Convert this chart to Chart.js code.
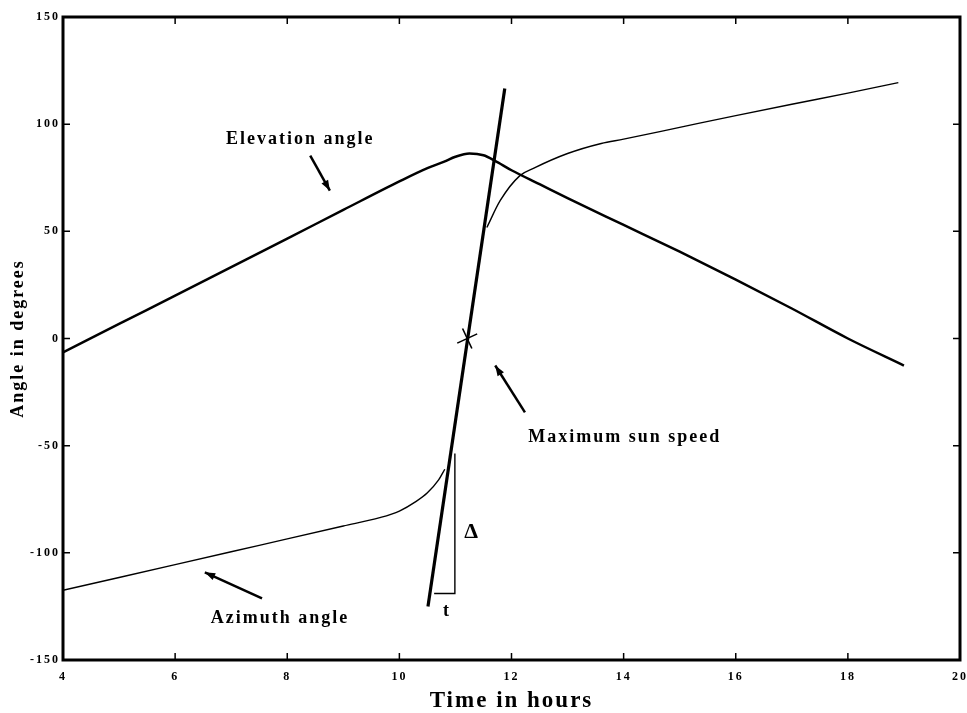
<!DOCTYPE html>
<html>
<head>
<meta charset="utf-8">
<script src="https://cdn.jsdelivr.net/npm/chart.js@4/dist/chart.umd.min.js"></script>
<style>
  html, body { margin: 0; padding: 0; background: #fff; }
  #chart { display: block; }
</style>
</head>
<body>
<canvas id="chart" width="967" height="713"></canvas>
<script>
// sun elevation over the day (hours, degrees)
const elevationHours = [4, 5, 6, 7, 8, 9, 10, 10.5, 10.8, 11.0, 11.25, 11.5, 11.7, 12, 12.5, 13, 14, 15, 16, 17, 18, 19];
const elevationAngle = [-6.5, 6.8, 20, 33.3, 46.6, 60, 73.3, 79.5, 82.5, 84.8, 86.3, 85.5, 83, 78.5, 72, 65.5, 53, 40.5, 27.5, 14, 0, -12.6];

// sun azimuth, broken where it runs under the tangent
const azimuthHours = [4, 5, 6, 7, 8, 9, 9.65, 10.0, 10.3, 10.5, 10.7, 10.81, 11.2, 11.56, 11.8, 12.15, 12.4, 13.0, 13.6, 14, 15, 16, 17, 18, 18.9];
const azimuthAngle = [-117.5, -111.5, -105.5, -99.5, -93.5, -87.5, -83.6, -80.5, -76, -72, -66, -61, null, 51.8, 64.4, 76, 79.5, 86.3, 91, 93, 98.5, 104, 109.3, 114.5, 119.4];

// tangent at the point of fastest azimuth change
const tangentHours = [10.51, 11.88];
const tangentAngle = [-125, 116.6];

// slope triangle under the tangent (t, delta)
const triangleHours = [10.62, 10.99, 10.99];
const triangleAngle = [-119, -119, -53.6];

const maxSpeedPoint = { x: 11.21, y: 0 };

const xTicks = [4, 6, 8, 10, 12, 14, 16, 18, 20];
const yTicks = [-150, -100, -50, 0, 50, 100, 150];

// text labels and arrows, in data units
const notes = [
    { text: 'Elevation angle', x: 8.23, y: 92.8 },
    { text: 'Maximum sun speed', x: 14.02, y: -46.2 },
    { text: 'Azimuth angle', x: 7.87, y: -130.6 },
    { text: 't', x: 10.85, y: -127.5 },
    { text: '\u0394', x: 11.30, y: -90.5, size: 22 }
];
const arrows = [
    { from: [8.41, 85.3], to: [8.76, 69.0] },
    { from: [12.24, -34.5], to: [11.71, -12.6] },
    { from: [7.55, -121.3], to: [6.53, -109.1] }
];

function pts(xs, ys) {
    return xs.map((x, i) => ({ x: x, y: ys[i] }));
}

const serif = '"Liberation Serif", "DejaVu Serif", serif';

// wide letter spacing for every text on the canvas
const spacingPlugin = {
    id: 'spacing',
    beforeDraw(chart) { chart.ctx.letterSpacing = '2px'; }
};

// box around the axes with ticks pointing inward, plus the notes
const framePlugin = {
    id: 'frame',
    afterDatasetsDraw(chart) {
        const ctx = chart.ctx;
        const a = chart.chartArea;
        const sx = chart.scales.x;
        const sy = chart.scales.y;
        const len = 7;
        ctx.save();
        ctx.strokeStyle = '#000';
        ctx.lineWidth = 1.5;
        ctx.beginPath();
        xTicks.forEach(v => {
            const px = sx.getPixelForValue(v);
            ctx.moveTo(px, a.bottom); ctx.lineTo(px, a.bottom - len);
            ctx.moveTo(px, a.top); ctx.lineTo(px, a.top + len);
        });
        yTicks.forEach(v => {
            const py = sy.getPixelForValue(v);
            ctx.moveTo(a.left, py); ctx.lineTo(a.left + len, py);
            ctx.moveTo(a.right, py); ctx.lineTo(a.right - len, py);
        });
        ctx.stroke();
        ctx.lineWidth = 3;
        ctx.strokeRect(a.left, a.top, a.right - a.left, a.bottom - a.top);

        ctx.fillStyle = '#000';
        ctx.textAlign = 'center';
        ctx.textBaseline = 'middle';
        notes.forEach(n => {
            ctx.font = 'bold ' + (n.size || 18) + 'px ' + serif;
            ctx.fillText(n.text, sx.getPixelForValue(n.x), sy.getPixelForValue(n.y));
        });

        ctx.lineWidth = 2.5;
        arrows.forEach(ar => {
            const x0 = sx.getPixelForValue(ar.from[0]), y0 = sy.getPixelForValue(ar.from[1]);
            const x1 = sx.getPixelForValue(ar.to[0]), y1 = sy.getPixelForValue(ar.to[1]);
            const ang = Math.atan2(y1 - y0, x1 - x0);
            ctx.beginPath();
            ctx.moveTo(x0, y0); ctx.lineTo(x1, y1);
            ctx.stroke();
            ctx.beginPath();
            ctx.moveTo(x1, y1);
            ctx.lineTo(x1 - 11 * Math.cos(ang - 0.35), y1 - 11 * Math.sin(ang - 0.35));
            ctx.lineTo(x1 - 11 * Math.cos(ang + 0.35), y1 - 11 * Math.sin(ang + 0.35));
            ctx.closePath();
            ctx.fill();
        });
        ctx.restore();
    }
};

new Chart(document.getElementById('chart'), {
    type: 'line',
    data: {
        datasets: [{
            data: pts(elevationHours, elevationAngle),
            borderColor: '#000',
            borderWidth: 2.5,
            cubicInterpolationMode: 'monotone'
        }, {
            data: pts(azimuthHours, azimuthAngle),
            borderColor: '#000',
            borderWidth: 1.4,
            spanGaps: false,
            cubicInterpolationMode: 'monotone'
        }, {
            data: pts(tangentHours, tangentAngle),
            borderColor: '#000',
            borderWidth: 3.2
        }, {
            data: pts(triangleHours, triangleAngle),
            borderColor: '#000',
            borderWidth: 1.4
        }, {
            data: [maxSpeedPoint],
            showLine: false,
            pointStyle: 'cross',
            pointRotation: -25,
            pointRadius: 11,
            pointBorderWidth: 1.6,
            pointBorderColor: '#000'
        }]
    },
    options: {
        responsive: false,
        animation: false,
        events: [],
        elements: { point: { radius: 0 } },
        layout: { autoPadding: false, padding: { top: 17, right: 7, left: 0, bottom: 0 } },
        plugins: {
            legend: { display: false },
            tooltip: { enabled: false }
        },
        scales: {
            x: {
                type: 'linear',
                min: 4,
                max: 20,
                afterFit(s) { s.height = 53; s.paddingLeft = 0; s.paddingRight = 0; },
                afterBuildTicks(s) { s.ticks = xTicks.map(v => ({ value: v })); },
                grid: { display: false, drawTicks: false },
                border: { display: false },
                ticks: {
                    padding: 10,
                    color: '#000',
                    font: { family: serif, size: 12, weight: 'bold' }
                },
                title: {
                    display: true,
                    text: 'Time in hours',
                    color: '#000',
                    padding: { top: 0, bottom: -2 },
                    font: { family: serif, size: 23, weight: 'bold' }
                }
            },
            y: {
                type: 'linear',
                min: -150,
                max: 150,
                afterFit(s) { s.width = 63; s.paddingTop = 0; s.paddingBottom = 0; },
                afterBuildTicks(s) { s.ticks = yTicks.map(v => ({ value: v })); },
                grid: { display: false, drawTicks: false },
                border: { display: false },
                ticks: {
                    padding: 3,
                    color: '#000',
                    font: { family: serif, size: 12, weight: 'bold' }
                },
                title: {
                    display: true,
                    text: 'Angle in degrees',
                    color: '#000',
                    padding: { top: 8, bottom: 0 },
                    font: { family: serif, size: 18, weight: 'bold' }
                }
            }
        }
    },
    plugins: [spacingPlugin, framePlugin]
});
</script>
</body>
</html>
